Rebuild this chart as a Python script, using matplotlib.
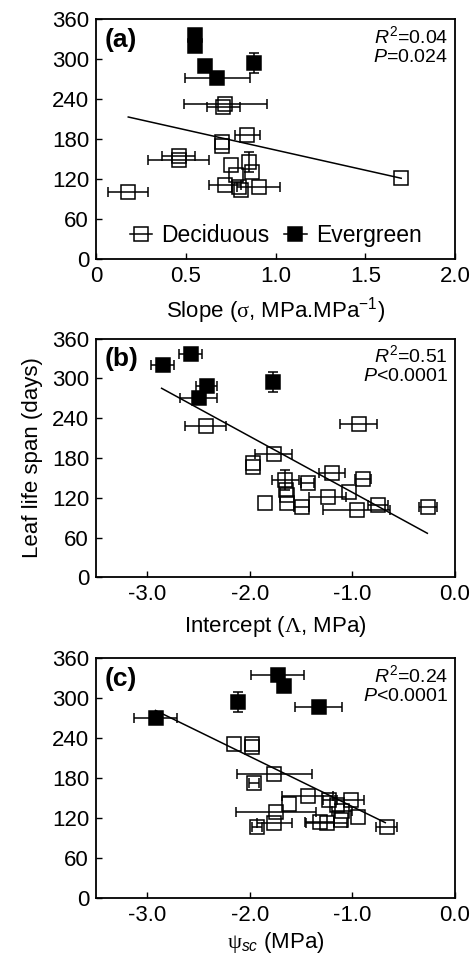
import matplotlib
matplotlib.use('Agg')
import matplotlib.pyplot as plt
from matplotlib.lines import Line2D

plt.rcParams['font.family'] = ['Liberation Sans', 'DejaVu Sans']
plt.rcParams['mathtext.fontset'] = 'custom'
plt.rcParams['mathtext.rm'] = 'Liberation Serif'
plt.rcParams['mathtext.it'] = 'Liberation Sans:italic'
plt.rcParams['mathtext.sf'] = 'Liberation Sans'
plt.rcParams['axes.unicode_minus'] = False

# (a) slope vs leaf life span
a_dec_x = [0.72, 0.71, 0.843, 0.70, 0.70, 0.46, 0.46, 0.178, 0.75, 0.85, 0.87, 0.78, 0.72, 0.795, 0.81, 0.906, 1.70]
a_dec_y = [232, 228, 186, 176, 170, 155, 148, 101, 141, 146, 131, 126, 111, 108, 104, 108, 121]
a_dec_xerr = [0.23, 0.09, 0.07, 0, 0, 0.09, 0.17, 0.11, 0, 0, 0, 0, 0.09, 0, 0, 0.12, 0]
a_dec_yerr = [0, 0, 0, 0, 0, 0, 0, 0, 0, 15, 0, 0, 0, 0, 0, 0, 0]
a_eve_x = [0.55, 0.55, 0.61, 0.676, 0.878]
a_eve_y = [336, 320, 289, 271, 294]
a_eve_xerr = [0, 0, 0, 0.18, 0.03]
a_eve_yerr = [0, 0, 0, 0, 15]
a_fit = (224.0, -60.5, 0.18, 1.70)  # intercept, slope, x from, x to

# (b) intercept vs leaf life span
b_dec_x = [-2.43, -0.94, -1.767, -1.97, -1.97, -1.20, -0.90, -1.437, -1.653, -1.646, -1.64, -1.243, -1.85, -1.64, -1.495, -0.96, -0.75, -0.265, -1.03]
b_dec_y = [227.5, 231.6, 186.6, 172.5, 167, 157.5, 147.6, 141.6, 146.5, 131.5, 124, 121.5, 112.5, 111.6, 106.5, 101.5, 109, 105.6, 129]
b_dec_xerr = [0.2, 0.18, 0.18, 0, 0, 0.13, 0.08, 0.06, 0.13, 0, 0, 0.18, 0, 0, 0.07, 0.33, 0.1, 0.09, 0]
b_dec_yerr = [0, 0, 0, 0, 0, 0, 0, 0, 15, 0, 0, 0, 0, 0, 0, 0, 0, 0, 0]
b_eve_x = [-2.85, -2.576, -2.42, -2.50, -1.77]
b_eve_y = [320, 336.6, 289, 270.6, 294]
b_eve_xerr = [0.11, 0.11, 0.1, 0.18, 0]
b_eve_yerr = [0, 0, 0, 0, 15]
b_fit = (43.6, -84.4, -2.86, -0.27)

# (c) psi_sc vs leaf life span
c_dec_x = [-2.155, -1.977, -1.98, -1.76, -1.96, -1.437, -1.616, -1.226, -1.016, -1.146, -1.1, -0.95, -1.744, -1.76, -1.93, -1.32, -1.25, -1.11, -0.667]
c_dec_y = [231.6, 226.5, 231, 186.6, 172.5, 152.5, 141.6, 146.5, 147.6, 139, 131, 121.5, 129, 111.6, 106.5, 114, 111.6, 117, 106.5]
c_dec_xerr = [0, 0, 0, 0.37, 0.05, 0.25, 0, 0.06, 0.13, 0, 0.1, 0, 0.39, 0.17, 0.05, 0.14, 0.2, 0, 0.1]
c_dec_yerr = [0] * 19
c_eve_x = [-1.728, -1.67, -2.117, -1.33, -2.916]
c_eve_y = [335, 319, 294, 287.5, 270]
c_eve_xerr = [0.26, 0, 0, 0.23, 0.21]
c_eve_yerr = [0, 0, 15, 0, 0]
c_fit = (61.5, -75.4, -2.92, -0.68)

stats = ['$R^{\\mathsf{2}}$=0.04\n$P$=0.024',
         '$R^{\\mathsf{2}}$=0.51\n$P$<0.0001',
         '$R^{\\mathsf{2}}$=0.24\n$P$<0.0001']
letters = ['(a)', '(b)', '(c)']
xlabels = ['Slope ($\\mathrm{\\sigma}$, MPa.MPa$^{\\mathsf{-1}}$)',
           'Intercept ($\\mathrm{\\Lambda}$, MPa)',
           '$\\mathrm{\\psi}_{sc}$ (MPa)']
y_ticks = [0, 60, 120, 180, 240, 300, 360]
a_ticks = [0, 0.5, 1.0, 1.5, 2.0]
a_ticklabels = ['0', '0.5', '1.0', '1.5', '2.0']
bc_ticks = [-3.0, -2.0, -1.0, 0.0]
bc_ticklabels = ['-3.0', '-2.0', '-1.0', '0.0']

fig = plt.figure(figsize=(4.75, 9.59), dpi=100)
boxes = [[0.202, 0.730, 0.756, 0.250],
         [0.202, 0.398, 0.756, 0.249],
         [0.202, 0.064, 0.756, 0.2495]]

panels = [
    (a_dec_x, a_dec_y, a_dec_xerr, a_dec_yerr, a_eve_x, a_eve_y, a_eve_xerr, a_eve_yerr, a_fit),
    (b_dec_x, b_dec_y, b_dec_xerr, b_dec_yerr, b_eve_x, b_eve_y, b_eve_xerr, b_eve_yerr, b_fit),
    (c_dec_x, c_dec_y, c_dec_xerr, c_dec_yerr, c_eve_x, c_eve_y, c_eve_xerr, c_eve_yerr, c_fit),
]

err_kw = dict(fmt='none', ecolor='k', elinewidth=1.1, capsize=3.5, capthick=1.1)


def draw_group(ax, x, y, xe, ye, face, z):
    # only draw the error bars that are non-zero
    xi = [k for k in range(len(x)) if xe[k] > 0]
    yi = [k for k in range(len(x)) if ye[k] > 0]
    if xi:
        ax.errorbar([x[k] for k in xi], [y[k] for k in xi], xerr=[xe[k] for k in xi],
                    zorder=z, **err_kw)
    if yi:
        ax.errorbar([x[k] for k in yi], [y[k] for k in yi], yerr=[ye[k] for k in yi],
                    zorder=z, **err_kw)
    ax.plot(x, y, 's', ms=9.5, mfc=face, mec='k', mew=1.1, zorder=z + 0.5)


for i, (dx, dy, dxe, dye, ex, ey, exe, eye, fit) in enumerate(panels):
    ax = fig.add_axes(boxes[i])
    b0, b1, x0, x1 = fit
    ax.plot([x0, x1], [b0 + b1 * x0, b0 + b1 * x1], color='k', lw=1.1, zorder=2)
    draw_group(ax, dx, dy, dxe, dye, 'none', 3)
    draw_group(ax, ex, ey, exe, eye, 'k', 4)
    ax.set_ylim(0, 360)
    ax.set_yticks(y_ticks)
    if i == 0:
        ax.set_xlim(0, 2.0)
        ax.set_xticks(a_ticks)
        ax.set_xticklabels(a_ticklabels)
        h_dec = Line2D([], [], color='k', lw=1.1, marker='s', ms=9.5, mfc='none', mew=1.1)
        h_eve = Line2D([], [], color='k', lw=1.1, marker='s', ms=9.5, mfc='k', mew=1.1)
        ax.legend([h_dec, h_eve], ['Deciduous', 'Evergreen'], loc='lower center', ncol=2,
                  frameon=False, fontsize=16.5, handlelength=1.0, handletextpad=0.4,
                  columnspacing=0.6, borderaxespad=0.1)
    else:
        ax.set_xlim(-3.5, 0.0)
        ax.set_xticks(bc_ticks)
        ax.set_xticklabels(bc_ticklabels)
    if i == 1:
        ax.set_ylabel('Leaf life span (days)', fontsize=16, labelpad=6)
    ax.set_xlabel(xlabels[i], fontsize=16, labelpad=6 if i < 2 else 3)
    ax.tick_params(direction='in', length=4, width=1, labelsize=16, pad=5,
                   top=False, right=False)
    for s in ax.spines.values():
        s.set_linewidth(1.3)
    ax.text(0.025, 0.965, letters[i], transform=ax.transAxes, fontsize=19,
            fontweight='bold', va='top', ha='left')
    ax.text(0.98, 0.975, stats[i], transform=ax.transAxes, fontsize=14,
            va='top', ha='right', linespacing=1.15)

fig.savefig('out.png', dpi=100)
